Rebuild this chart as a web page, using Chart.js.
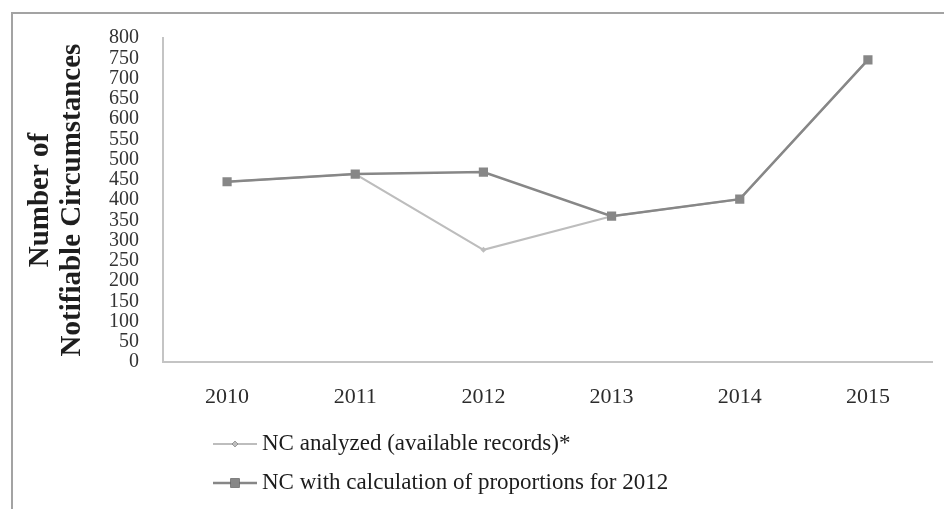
<!DOCTYPE html>
<html>
<head>
<meta charset="utf-8">
<title>Notifiable Circumstances 2010–2015</title>
<script src="https://cdn.jsdelivr.net/npm/chart.js@4/dist/chart.umd.min.js"></script>
<style>
  html, body { margin: 0; padding: 0; background: #ffffff; }
  #wrap { position: relative; width: 944px; height: 509px; }
  canvas { display: block; }
</style>
</head>
<body>
<div id="wrap"><canvas id="chart" width="944" height="509"></canvas></div>
<script>
// Years on the horizontal axis
const years = ['2010', '2011', '2012', '2013', '2014', '2015'];

// Number of notifiable circumstances per year
const ncAnalyzed = [445, 464, 277, 360, 402, 746];
const ncProportions = [445, 464, 469, 360, 402, 746];

// Series names
const seriesNames = [
  'NC analyzed (available records)*',
  'NC with calculation of proportions for 2012'
];

// Vertical axis range and step
const yMin = 0;
const yMax = 800;
const yStep = 50;

const yTitle = ['Number of', 'Notifiable Circumstances'];

const SERIF = '"Liberation Serif", "Times New Roman", serif';
const LIGHT = '#bdbdbd';
const DARK = '#878787';

// Thin frame along the top and left edges
const framePlugin = {
  id: 'frame',
  afterDraw(chart) {
    const ctx = chart.ctx;
    ctx.save();
    ctx.strokeStyle = '#a3a3a3';
    ctx.lineWidth = 2;
    ctx.beginPath();
    ctx.moveTo(12, chart.height);
    ctx.lineTo(12, 13);
    ctx.lineTo(chart.width, 13);
    ctx.stroke();
    ctx.restore();
  }
};

// Legend stacked in two rows under the axis labels
const stackedLegend = {
  id: 'stackedLegend',
  afterDraw(chart) {
    const ctx = chart.ctx;
    const rows = [444, 483];
    const x0 = 213, x1 = 257, tx = 262;
    ctx.save();
    chart.data.datasets.forEach((ds, i) => {
      const y = rows[i];
      ctx.strokeStyle = ds.borderColor;
      ctx.lineWidth = ds.borderWidth;
      ctx.beginPath();
      ctx.moveTo(x0, y);
      ctx.lineTo(x1, y);
      ctx.stroke();
      Chart.helpers.drawPoint(ctx, {
        pointStyle: ds.pointStyle,
        radius: ds.pointRadius,
        borderWidth: 0,
        rotation: 0
      }, (x0 + x1) / 2, y);
      ctx.fillStyle = ds.pointBackgroundColor;
      ctx.fill();
      ctx.fillStyle = '#1c1c1c';
      ctx.font = '23px ' + SERIF;
      ctx.textBaseline = 'middle';
      ctx.textAlign = 'left';
      ctx.fillText(ds.label, tx, y);
    });
    ctx.restore();
  }
};

new Chart(document.getElementById('chart'), {
  type: 'line',
  data: {
    labels: years,
    datasets: [
      {
        label: seriesNames[0],
        data: ncAnalyzed,
        borderColor: LIGHT,
        backgroundColor: LIGHT,
        borderWidth: 2,
        pointStyle: 'rectRot',
        pointRadius: 3,
        pointBackgroundColor: LIGHT,
        pointBorderColor: LIGHT,
        pointBorderWidth: 0,
        tension: 0,
        order: 2
      },
      {
        label: seriesNames[1],
        data: ncProportions,
        borderColor: DARK,
        backgroundColor: DARK,
        borderWidth: 2.5,
        pointStyle: 'rect',
        pointRadius: 6.5,
        pointBackgroundColor: DARK,
        pointBorderColor: DARK,
        pointBorderWidth: 0,
        tension: 0,
        order: 1
      }
    ]
  },
  options: {
    responsive: false,
    animation: false,
    devicePixelRatio: 1,
    layout: { padding: { left: 0, right: 12, top: 38, bottom: 0 } },
    plugins: {
      legend: { display: false },
      tooltip: { enabled: false }
    },
    scales: {
      x: {
        type: 'category',
        offset: true,
        grid: { display: false, drawTicks: false },
        border: { display: true, color: '#c4c4c4', width: 2 },
        ticks: {
          color: '#2c2c2c',
          font: { family: SERIF, size: 22 },
          padding: 22,
          maxRotation: 0,
          autoSkip: false
        },
        afterFit(scale) { scale.height = 147; }
      },
      y: {
        min: yMin,
        max: yMax,
        grid: { display: false, drawTicks: false },
        border: { display: true, color: '#c4c4c4', width: 2 },
        ticks: {
          stepSize: yStep,
          autoSkip: false,
          color: '#333333',
          font: { family: SERIF, size: 20, lineHeight: 1 },
          padding: 24
        },
        title: {
          display: true,
          text: yTitle,
          color: '#1e1e1e',
          font: { family: SERIF, size: 29, weight: 'bold', lineHeight: 1.1 },
          padding: { top: 25, bottom: 0 }
        },
        afterFit(scale) { scale.width = 163; }
      }
    }
  },
  plugins: [framePlugin, stackedLegend]
});
</script>
</body>
</html>
